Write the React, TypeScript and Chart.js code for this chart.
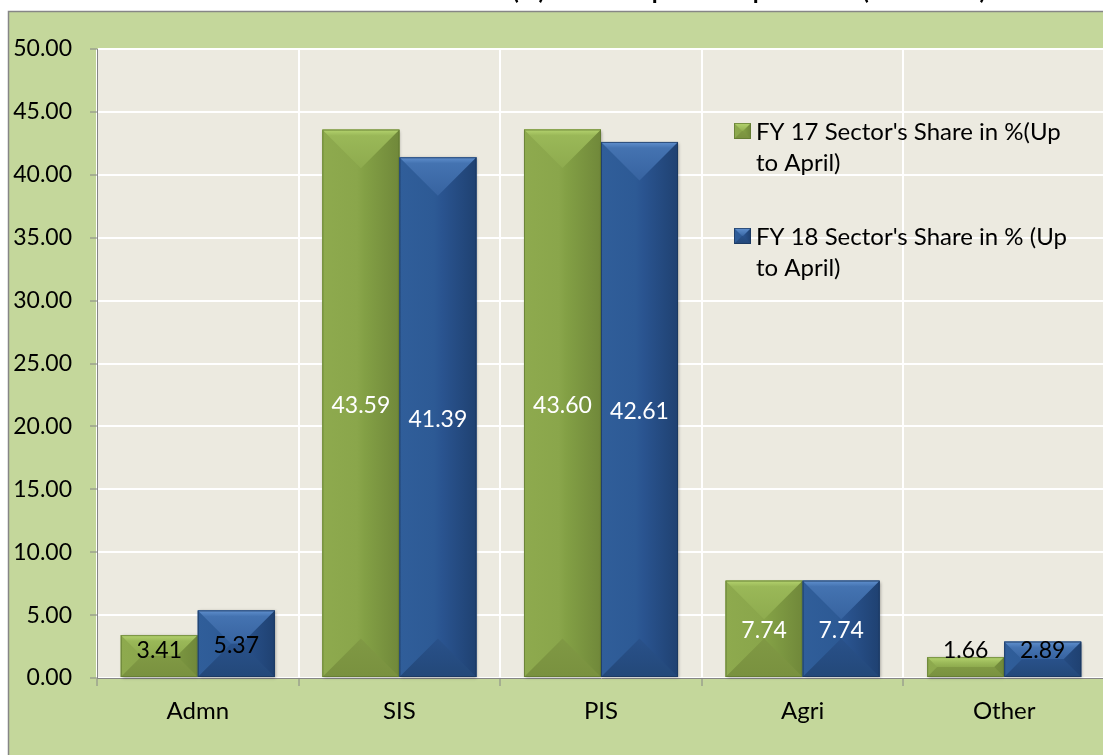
import React, { useEffect, useRef } from 'react';
import { Chart, registerables } from 'chart.js';

Chart.register(...registerables);

// ---- data ----
const categories = ['Admn', 'SIS', 'PIS', 'Agri', 'Other'];
const fy17Share = [3.41, 43.59, 43.6, 7.74, 1.66];
const fy18Share = [5.37, 41.39, 42.61, 7.74, 2.89];
const seriesLabels = [
  "FY 17 Sector's Share in %(Up to April)",
  "FY 18 Sector's Share in % (Up to April)",
];
const yTickValues = [0, 5, 10, 15, 20, 25, 30, 35, 40, 45, 50];
const chartTitle = "Sector-wise Share (%) in Development Expenditure (Rs. Million)";

// ---- styles ----
const FONT = 'Lato, "Open Sans", sans-serif';
const palettes = [
  {
    main: '#89A54A', leftEdge: '#8EAA4E', left: '#8AA64B', right: '#83A045', rightEdge: '#70883A',
    topA: '#B4D36E', topM: '#9AB858', topB: '#8EAB4E', bottomA: '#809944', bottomB: '#79913F', edge: '#5E7630',
  },
  {
    main: '#2B5690', leftEdge: '#305E9A', left: '#2D5A95', right: '#2A5490', rightEdge: '#1F4171',
    topA: '#6090CE', topM: '#4473B1', topB: '#3763A0', bottomA: '#29518A', bottomB: '#234879', edge: '#1A345A',
  },
];

function poly(ctx: CanvasRenderingContext2D, pts: number[][]) {
  ctx.beginPath();
  ctx.moveTo(pts[0][0], pts[0][1]);
  for (let i = 1; i < pts.length; i++) ctx.lineTo(pts[i][0], pts[i][1]);
  ctx.closePath();
}

function drawBevelRect(ctx: CanvasRenderingContext2D, L: number, T: number, R: number, B: number, pal: any, shadow: boolean) {
  const w = R - L;
  const h = B - T;
  if (w <= 0 || h <= 0) return;
  const d = Math.min(w, h) / 2;
  ctx.save();
  if (shadow) {
    ctx.shadowColor = 'rgba(0,0,0,0.35)';
    ctx.shadowBlur = 3;
    ctx.shadowOffsetX = 1;
    ctx.shadowOffsetY = 1;
  }
  ctx.fillStyle = pal.main;
  ctx.fillRect(L, T, w, h);
  ctx.restore();
  ctx.save();
  const g = ctx.createLinearGradient(L, 0, R, 0);
  g.addColorStop(0, pal.leftEdge);
  g.addColorStop(0.45, pal.left);
  g.addColorStop(0.55, pal.right);
  g.addColorStop(1, pal.rightEdge);
  ctx.fillStyle = g;
  ctx.fillRect(L, T, w, h);
  const gt = ctx.createLinearGradient(0, T, 0, T + d);
  gt.addColorStop(0, pal.topA);
  gt.addColorStop(Math.min(1, 6 / d), pal.topM);
  gt.addColorStop(1, pal.topB);
  poly(ctx, [[L, T], [R, T], [R - d, T + d], [L + d, T + d]]);
  ctx.fillStyle = gt;
  ctx.fill();
  const gb = ctx.createLinearGradient(0, B - d, 0, B);
  gb.addColorStop(0, pal.bottomA);
  gb.addColorStop(1, pal.bottomB);
  poly(ctx, [[L, B], [R, B], [R - d, B - d], [L + d, B - d]]);
  ctx.fillStyle = gb;
  ctx.fill();
  ctx.strokeStyle = pal.edge;
  ctx.globalAlpha = 0.7;
  ctx.lineWidth = 1;
  ctx.strokeRect(L + 0.5, T + 0.5, w - 1, h - 1);
  ctx.restore();
}

function wrapText(ctx: CanvasRenderingContext2D, text: string, maxWidth: number) {
  const words = text.split(' ');
  const lines: string[] = [];
  let cur = '';
  words.forEach((wd) => {
    const test = cur ? cur + ' ' + wd : wd;
    if (ctx.measureText(test).width > maxWidth && cur) {
      lines.push(cur);
      cur = wd;
    } else cur = test;
  });
  if (cur) lines.push(cur);
  return lines;
}

const framePlugin = {
  id: 'frame',
  beforeDraw(chart: any) {
    const { ctx, chartArea } = chart;
    ctx.save();
    ctx.fillStyle = '#FFFFFF';
    ctx.fillRect(0, 0, chart.width, chart.height);
    ctx.fillStyle = '#000';
    ctx.font = `bold 24px ${FONT}`;
    ctx.textAlign = 'center';
    ctx.textBaseline = 'alphabetic';
    ctx.fillText(chartTitle, 650, -1);
    ctx.fillStyle = '#C4D79B';
    ctx.fillRect(8.5, 11.5, chart.width + 20, chart.height + 20);
    ctx.strokeStyle = '#868686';
    ctx.lineWidth = 1.5;
    ctx.strokeRect(8.5, 11.5, chart.width + 20, chart.height + 20);
    ctx.fillStyle = '#ECEAE0';
    ctx.fillRect(chartArea.left, chartArea.top, chartArea.right - chartArea.left, chartArea.bottom - chartArea.top);
    ctx.restore();
  },
};

const barsPlugin = {
  id: 'bevelBars',
  afterDatasetsDraw(chart: any) {
    const ctx = chart.ctx as CanvasRenderingContext2D;
    const bars: any[] = [];
    chart.data.datasets.forEach((_ds: any, di: number) => {
      const meta = chart.getDatasetMeta(di);
      meta.data.forEach((bar: any, i: number) => {
        const p = bar.getProps(['x', 'y', 'base', 'width'], true);
        const L = p.x - p.width / 2;
        const R = p.x + p.width / 2;
        const T = Math.min(p.y, p.base);
        const B = Math.max(p.y, p.base);
        drawBevelRect(ctx, L, T, R, B, palettes[di], true);
        bars.push({ x: p.x, T, B, value: chart.data.datasets[di].data[i] });
      });
    });
    ctx.save();
    ctx.font = `23px ${FONT}`;
    ctx.textAlign = 'center';
    ctx.textBaseline = 'middle';
    bars.forEach((b) => {
      const cy = Math.min((b.T + b.B) / 2, b.B - 28) + 2;
      ctx.fillStyle = b.B - b.T > 80 ? '#FFFFFF' : '#000000';
      ctx.fillText(Number(b.value).toFixed(2), b.x, cy);
    });
    ctx.restore();
  },
};

const legendPlugin = {
  id: 'customLegend',
  afterDraw(chart: any) {
    const ctx = chart.ctx as CanvasRenderingContext2D;
    ctx.save();
    ctx.font = `24px ${FONT}`;
    ctx.textAlign = 'left';
    ctx.textBaseline = 'alphabetic';
    const x0 = 734;
    const startBaselines = [140, 245];
    chart.data.datasets.forEach((ds: any, di: number) => {
      const base = startBaselines[di];
      drawBevelRect(ctx, x0, base - 17, x0 + 17, base - 1, palettes[di], false);
      const lines = wrapText(ctx, ds.label, 325);
      ctx.fillStyle = '#000';
      lines.forEach((ln, li) => ctx.fillText(ln, x0 + 22, base + li * 31));
    });
    ctx.restore();
  },
};

export default function App() {
  const ref = useRef<HTMLCanvasElement>(null);
  useEffect(() => {
    const chart = new Chart(ref.current as HTMLCanvasElement, {
      type: 'bar',
      data: {
        labels: categories,
        datasets: [
          { label: seriesLabels[0], data: fy17Share, backgroundColor: palettes[0].main, borderWidth: 0 },
          { label: seriesLabels[1], data: fy18Share, backgroundColor: palettes[1].main, borderWidth: 0 },
        ],
      },
      options: {
        responsive: false,
        animation: false,
        devicePixelRatio: 1,
        layout: { padding: { top: 49, left: 0, right: 5, bottom: 0 } },
        plugins: {
          legend: { display: false },
          tooltip: { enabled: false },
          title: { display: false },
        },
        datasets: { bar: { categoryPercentage: 0.764, barPercentage: 1.0 } },
        scales: {
          x: {
            afterFit: (s: any) => { s.height = 82; },
            grid: { color: '#FFFFFF', lineWidth: 2, tickColor: '#868686', tickWidth: 1, tickLength: 8, offset: true },
            border: { color: '#868686', width: 1 },
            ticks: { color: '#000', font: { family: FONT, size: 24 }, padding: 11 },
          },
          y: {
            min: 0,
            max: 50,
            afterFit: (s: any) => { s.width = 97; },
            afterBuildTicks: (s: any) => { s.ticks = yTickValues.map((v) => ({ value: v })); },
            grid: { color: '#FFFFFF', lineWidth: 2, tickColor: '#868686', tickWidth: 1, tickLength: 7 },
            border: { color: '#868686', width: 1 },
            ticks: {
              color: '#000',
              font: { family: FONT, size: 23 },
              padding: 18,
              callback: (v: any) => Number(v).toFixed(2),
            },
          },
        },
      },
      plugins: [framePlugin, barsPlugin, legendPlugin],
    });
    return () => chart.destroy();
  }, []);
  return (
    <div style={{ position: 'absolute', left: 0, top: 0, width: 1103, height: 755, overflow: 'hidden', background: '#fff' }}>
      <canvas ref={ref} width={1110} height={760} style={{ display: 'block', width: 1110, height: 760 }} />
    </div>
  );
}
